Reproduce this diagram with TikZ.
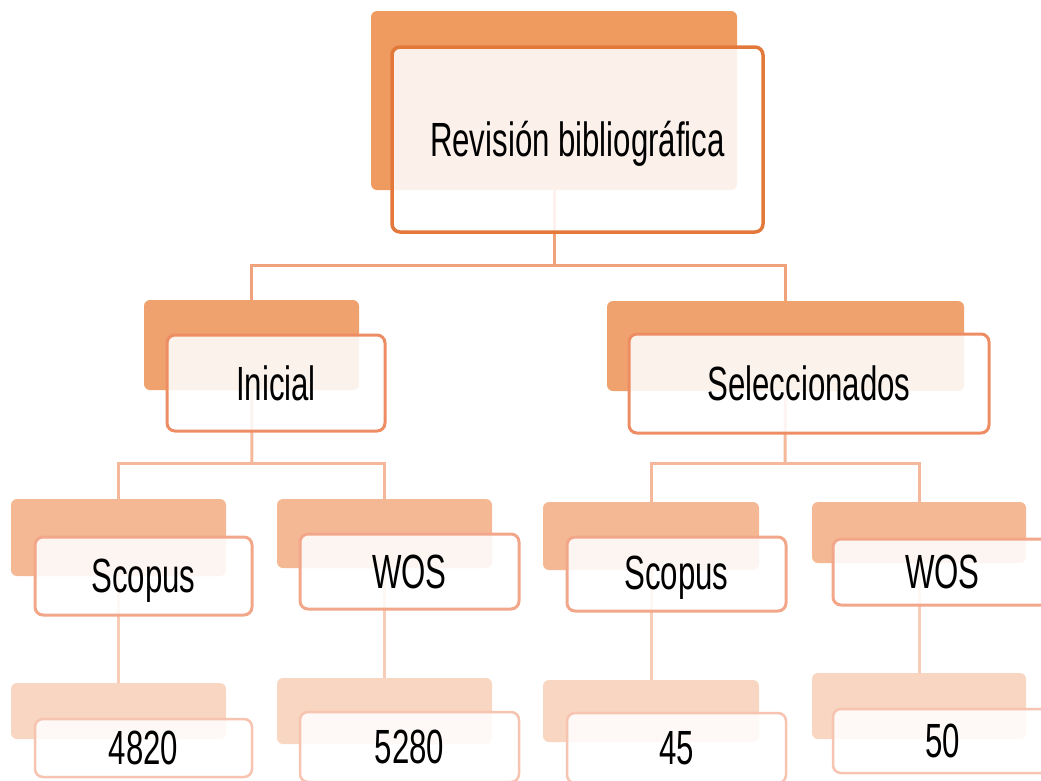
\documentclass[tikz,border=0pt]{standalone}
\usepackage{fontspec}
\setmainfont{Liberation Sans}[FakeStretch=0.65]
\definecolor{bkA}{HTML}{EF9A5E}
\definecolor{brA}{HTML}{E2793B}
\definecolor{bkB}{HTML}{EFA26E}
\definecolor{brB}{HTML}{EE8D63}
\definecolor{bkC}{HTML}{F4B994}
\definecolor{brC}{HTML}{F3A78A}
\definecolor{bkD}{HTML}{F8D6C1}
\definecolor{brD}{HTML}{F6C4B0}
\definecolor{lnA}{HTML}{F0A27A}
\definecolor{lnB}{HTML}{F5B89A}
\definecolor{lnC}{HTML}{F8CDB8}
\newcommand{\lowertext}[2]{\raisebox{-#1}[\height][\depth]{#2}}
\tikzset{
  box/.style={anchor=north west, inner sep=0pt, outer sep=0pt, rectangle},
  back/.style={box, rounded corners=6pt, draw=none},
  front/.style={box, rounded corners=8pt, fill=white, fill opacity=0.87, text opacity=1,
    font=\fontsize{48}{56}\selectfont, text=black},
  conn/.style={line width=3pt},
}
\begin{document}
\begin{tikzpicture}[x=1pt,y=-1pt]
\useasboundingbox (0,0) rectangle (1041,780);
\clip (0,0) rectangle (1041,780);
% back boxes
\node[back, fill=bkA, minimum width=366, minimum height=179] (b0) at (371,11) {};
\node[back, fill=bkB, minimum width=215, minimum height=90] (b1) at (144,300) {};
\node[back, fill=bkB, minimum width=357, minimum height=90] (b2) at (607,301) {};
\node[back, fill=bkC, minimum width=215, minimum height=77] (b3) at (11,499) {};
\node[back, fill=bkC, minimum width=215, minimum height=69] (b4) at (277,499) {};
\node[back, fill=bkC, minimum width=216, minimum height=68] (b5) at (543,502) {};
\node[back, fill=bkC, minimum width=214, minimum height=61] (b6) at (812,502) {};
\node[back, fill=bkD, minimum width=215, minimum height=56] (b7) at (11,683) {};
\node[back, fill=bkD, minimum width=215, minimum height=66] (b8) at (277,678) {};
\node[back, fill=bkD, minimum width=216, minimum height=62] (b9) at (543,680) {};
\node[back, fill=bkD, minimum width=214, minimum height=66] (b10) at (812,673) {};
% connectors
\coordinate (j0) at (554,265);
\coordinate (j1) at (252,463);
\coordinate (j2) at (785,463);
\draw[conn, draw=lnA] (b0.south) -- (j0);
\draw[conn, draw=lnA] (b1.north) |- (j0) -| (b2.north);
\draw[conn, draw=lnB] (b1.south) -- (j1);
\draw[conn, draw=lnB] (b3.north) |- (j1) -| (b4.north);
\draw[conn, draw=lnB] (b2.south) -- (j2);
\draw[conn, draw=lnB] (b5.north) |- (j2) -| (b6.north);
\draw[conn, draw=lnC] (b3.south) -- (b7.north);
\draw[conn, draw=lnC] (b4.south) -- (b8.north);
\draw[conn, draw=lnC] (b5.south) -- (b9.north);
\draw[conn, draw=lnC] (b6.south) -- (b10.north);
% front boxes
\node[front, draw=brA, line width=3.5pt, minimum width=371, minimum height=185] (f0) at (392,47) {\lowertext{4pt}{Revisión bibliográfica}};
\node[front, draw=brB, line width=3pt, minimum width=218, minimum height=96] (f1) at (167,335) {Inicial};
\node[front, draw=brB, line width=3pt, minimum width=360, minimum height=99] (f2) at (629,334) {Seleccionados};
\node[front, draw=brC, line width=3pt, minimum width=217, minimum height=78] (f3) at (35,537) {\lowertext{5pt}{Scopus}};
\node[front, draw=brC, line width=3pt, minimum width=219, minimum height=75] (f4) at (300,534) {WOS};
\node[front, draw=brC, line width=3pt, minimum width=219, minimum height=74] (f5) at (567,537) {\lowertext{4pt}{Scopus}};
\node[front, draw=brC, line width=3pt, minimum width=219, minimum height=66] (f6) at (833,539) {WOS};
\node[front, draw=brD, line width=2.5pt, minimum width=217, minimum height=58] (f7) at (35,719) {4820};
\node[front, draw=brD, line width=2.5pt, minimum width=219, minimum height=70] (f8) at (300,712) {5280};
\node[front, draw=brD, line width=2.5pt, minimum width=219, minimum height=70] (f9) at (567,713) {45};
\node[front, draw=brD, line width=2.5pt, minimum width=219, minimum height=64] (f10) at (833,709) {50};
\end{tikzpicture}
\end{document}
